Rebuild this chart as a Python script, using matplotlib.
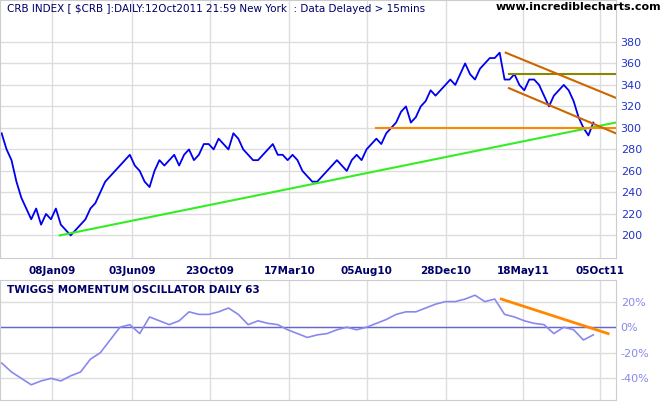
import matplotlib
matplotlib.use("Agg")
import matplotlib.pyplot as plt
import numpy as np
import pandas as pd

price = [295,280,270,250,235,225,215,225,210,220,215,225,210,205,200,205,210,215,225,230,240,250,255,260,265,270,275,265,260,250,245,260,270,265,270,275,265,275,280,270,275,285,285,280,290,285,280,295,290,280,275,270,270,275,280,285,275,275,270,275,270,260,255,250,250,255,260,265,270,265,260,270,275,270,280,285,290,285,295,300,305,315,320,305,310,320,325,335,330,335,340,345,340,350,360,350,345,355,360,365,365,370,345,345,350,340,335,345,345,340,330,320,330,335,340,335,325,310,300,293,305]
osc = [-28,-35,-40,-45,-42,-40,-42,-38,-35,-25,-20,-10,0,2,-5,8,5,2,5,12,10,10,12,15,10,2,5,3,2,-2,-5,-8,-6,-5,-2,0,-2,0,3,6,10,12,12,15,18,20,20,22,25,20,22,10,8,5,3,2,-5,0,-2,-10,-6]
price_dates = pd.date_range("2008-10-08", periods=len(price), freq="9D")
osc_dates = pd.date_range("2008-10-08", periods=len(osc), freq="18D")
tick_labels = ["08Jan09","03Jun09","23Oct09","17Mar10","05Aug10","28Dec10","18May11","05Oct11"]
tick_dates = pd.to_datetime(["2009-01-08","2009-06-03","2009-10-23","2010-03-17","2010-08-05","2010-12-28","2011-05-18","2011-10-05"])
price_ticks = [200,220,240,260,280,300,320,340,360,380]
osc_ticks = [-40,-20,0,20]

xmin, xmax = pd.Timestamp("2008-10-05"), pd.Timestamp("2011-11-03")
fig = plt.figure(figsize=(6.65,4.05), dpi=100)
ax = fig.add_axes([0, 0.363, 0.926, 0.637])
ax2 = fig.add_axes([0, 0.012, 0.926, 0.297])
for a in (ax, ax2):
    a.set_xlim(xmin, xmax)
    a.set_xticks(tick_dates)
    a.grid(True, color="#dddddd", lw=1)
    a.yaxis.tick_right()
    a.tick_params(length=0)
    for s in a.spines.values():
        s.set_color("#cccccc")
ax.set_ylim(179, 419)
ax.set_yticks(price_ticks)
ax.set_yticklabels([str(v) for v in price_ticks], color="#2233cc", fontsize=8)
ax.set_xticklabels(tick_labels, fontsize=7.5, fontweight="bold", color="#000066")
ax.tick_params(axis="x", pad=6)
ax.plot(price_dates, price, color="#0000ee", lw=1.3)
T = pd.Timestamp
ax.plot([T("2009-01-22"), xmax], [200, 305], color="#33ee22", lw=1.5)
ax.plot([T("2010-08-22"), xmax], [300, 300], color="#ff8800", lw=1.5)
ax.plot([T("2011-04-22"), xmax], [350, 350], color="#888800", lw=1.5)
ax.plot([T("2011-04-16"), xmax], [370, 328], color="#cc6600", lw=1.5)
ax.plot([T("2011-04-22"), xmax], [337, 295], color="#cc6600", lw=1.5)
ax.text(0.012, 0.985, "CRB INDEX [ $CRB ]:DAILY:12Oct2011 21:59 New York  : Data Delayed > 15mins",
        transform=ax.transAxes, va="top", fontsize=7.5, color="#000066")
fig.text(0.995, 0.995, "www.incrediblecharts.com", ha="right", va="top", fontsize=8, fontweight="bold")

ax2.set_ylim(-57, 37)
ax2.set_yticks(osc_ticks)
ax2.set_yticklabels([f"{v}%" for v in osc_ticks], color="#8888ee", fontsize=8)
ax2.set_xticklabels([])
ax2.axhline(0, color="#6666cc", lw=1)
ax2.plot(osc_dates, osc, color="#8888ee", lw=1.2)
ax2.plot([T("2011-04-08"), T("2011-10-20")], [22, -5], color="#ff8800", lw=2)
ax2.text(0.012, 0.96, "TWIGGS MOMENTUM OSCILLATOR DAILY 63", transform=ax2.transAxes,
         va="top", fontsize=7.5, fontweight="bold", color="#000066")
fig.savefig("out.png", dpi=100)
